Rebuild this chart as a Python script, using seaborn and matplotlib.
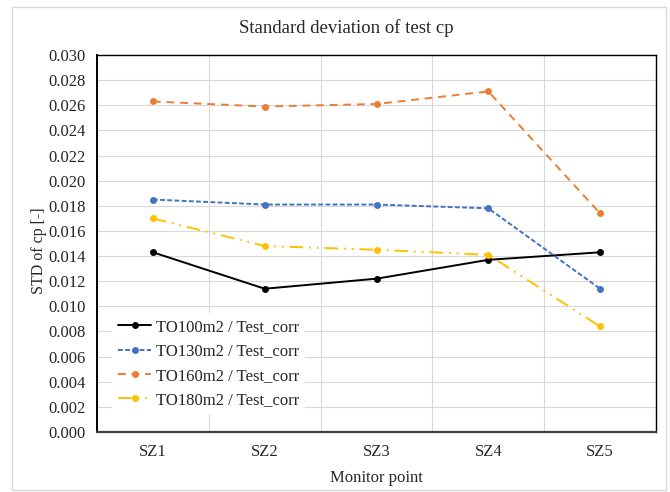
import numpy as np
import pandas as pd
import seaborn as sns
import matplotlib.pyplot as plt
from matplotlib.patches import Rectangle
from matplotlib.ticker import MultipleLocator, FixedLocator

points = ['SZ1', 'SZ2', 'SZ3', 'SZ4', 'SZ5']
to100 = [0.0143, 0.0114, 0.0122, 0.0137, 0.0143]
to130 = [0.0185, 0.0181, 0.0181, 0.0178, 0.0114]
to160 = [0.0263, 0.0259, 0.0261, 0.0271, 0.0174]
to180 = [0.0170, 0.0148, 0.0145, 0.0141, 0.0084]

series_names = ['TO100m2 / Test_corr', 'TO130m2 / Test_corr',
                'TO160m2 / Test_corr', 'TO180m2 / Test_corr']
series_values = [to100, to130, to160, to180]
colors = ['#000000', '#4472C4', '#ED7D31', '#FFC000']
dashes = [(None, None), (2.5, 1.2), (4, 3), (7, 3, 1, 3, 1, 3)]

sns.set_style('white')
plt.rcParams['font.family'] = ['Liberation Serif', 'DejaVu Serif']

fig = plt.figure(figsize=(6.7, 4.92), dpi=100)
ax = fig.add_axes([97 / 670, 1 - 432 / 492, (656 - 97) / 670, (432 - 55) / 492])

for name, vals, col, dsh in zip(series_names, series_values, colors, dashes):
    df = pd.DataFrame({'point': points, 'std': vals})
    kw = {}
    if dsh[0] is not None:
        kw['dashes'] = dsh
    sns.lineplot(data=df, x='point', y='std', ax=ax, color=col, marker='o',
                 markersize=5, markeredgewidth=0, linewidth=1.4,
                 label=name, sort=False, **kw)

ax.set_xlim(-0.5, 4.5)
ax.set_ylim(0, 0.030)
ax.yaxis.set_major_locator(MultipleLocator(0.002))
ax.yaxis.set_minor_locator(MultipleLocator(0.0004))
ax.set_yticklabels([f'{v:.3f}' for v in ax.get_yticks()])
ax.xaxis.set_major_locator(FixedLocator(np.arange(-0.5, 5, 1)))
ax.xaxis.set_minor_locator(FixedLocator(np.arange(0, 5)))
ax.set_xticklabels([''] * 6)
ax.set_xticklabels(points, minor=True)
ax.tick_params(axis='x', which='major', length=4, width=0.8, color='#404040', direction='out')
ax.tick_params(axis='x', which='minor', length=0, pad=9, labelsize=12)
ax.tick_params(axis='y', which='major', length=5, width=0.8, direction='out', labelsize=12, pad=3)
ax.tick_params(axis='y', which='minor', length=3, width=0.6, direction='out')
ax.grid(True, which='major', color='#D9D9D9', linewidth=0.8)
ax.set_axisbelow(True)
for s in ax.spines.values():
    s.set_visible(True)
    s.set_color('#000000')
    s.set_linewidth(1.0)
ax.spines['bottom'].set_color('#404040')
ax.spines['bottom'].set_linewidth(1.6)
ax.spines['left'].set_linewidth(1.4)

ax.set_xlabel('Monitor point', fontsize=12, labelpad=7)
ax.set_ylabel('STD of cp [-]', fontsize=11.5)
ax.yaxis.set_label_coords(-0.089, 0.48)

leg = ax.legend(loc='lower left', bbox_to_anchor=(0.027, 0.048), frameon=True,
                fontsize=12, handlelength=2.0, labelspacing=0.5, borderpad=0.35,
                handletextpad=0.3, borderaxespad=0)
leg.get_frame().set_facecolor('white')
leg.get_frame().set_edgecolor('none')
leg.get_frame().set_alpha(1)

fig.text(346 / 670, 1 - 28 / 492, 'Standard deviation of test cp',
         ha='center', va='center', fontsize=13.5)

fig.patches.append(Rectangle((12 / 670, 2 / 492), (666 - 12) / 670, (485 - 2) / 492,
                             transform=fig.transFigure, fill=False,
                             edgecolor='#D9D9D9', linewidth=1))

fig.savefig('out.png', dpi=100)
